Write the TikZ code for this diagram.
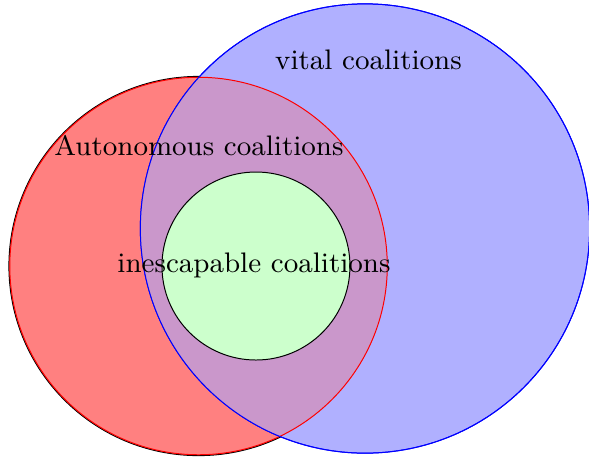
\documentclass[tikz,border=0pt]{standalone}
\usepackage{amsmath}
\usepackage{amssymb}
\usepackage{tikz}

\definecolor{vitalfill}{RGB}{176,176,255}
\definecolor{bothfill}{RGB}{202,151,203}

\begin{document}
\begin{tikzpicture}[font=\fontsize{8.55}{10}\selectfont, line width=0.3pt]
        \useasboundingbox (0,0) rectangle (6.266,-4.904);
        \coordinate (auto) at (2.112,-2.830);
        \coordinate (vital) at (3.883,-2.431);
        \coordinate (ines) at (2.723,-2.830);

        \filldraw[fill=red!50, draw=black] (auto) circle (2.017);
        \filldraw[fill=vitalfill, draw=blue] (vital) circle (2.39);
        \begin{scope}
          \clip (auto) circle (2.008);
          \fill[bothfill] (vital) circle (2.39);
        \end{scope}
        \draw[red] (auto) circle (2.008);
        \draw[blue] (vital) circle (2.39);
        \filldraw[fill=green!20, draw=black] (ines) circle (1);

        \node (lvital) at (3.92,-0.64) {vital coalitions};
        \node (lauto) at (2.117,-1.55) {Autonomous coalitions};
        \node (lines) at (2.702,-2.82) {inescapable coalitions};
      \end{tikzpicture}
\end{document}
